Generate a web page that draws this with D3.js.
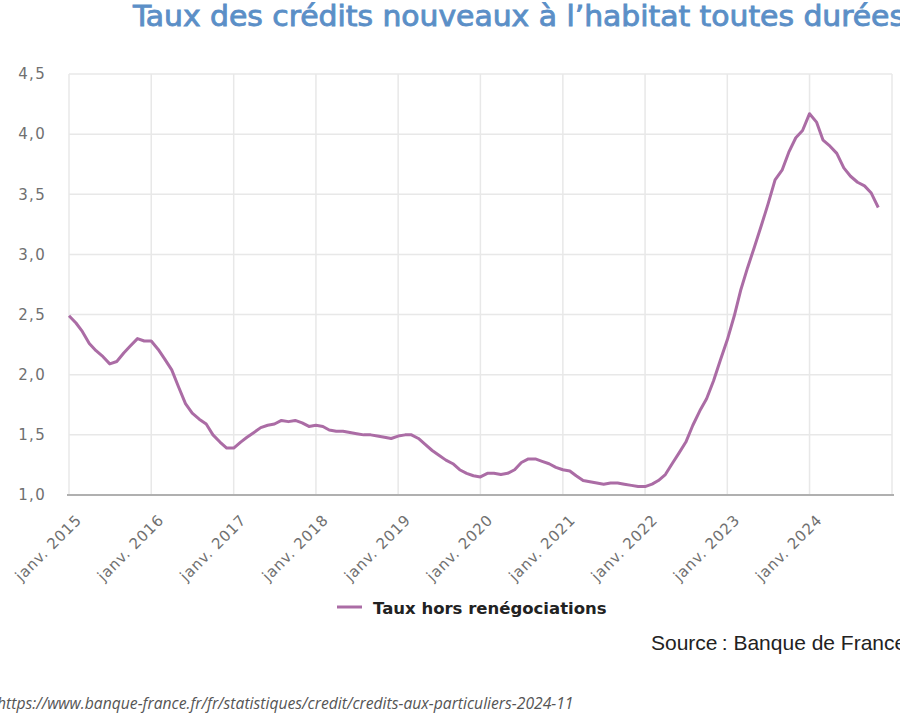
<!DOCTYPE html>
<html>
<head>
<meta charset="utf-8">
<script src="https://cdn.jsdelivr.net/npm/d3@7"></script>
<style>
  body { margin: 0; background: #fff; }
  svg { display: block; }
</style>
</head>
<body>
<script>
// taux mensuels, janv. 2015 -> nov. 2024
const startMonth = "2015-01";
const rates = [
  2.49, 2.43, 2.36, 2.26, 2.20, 2.15, 2.09, 2.11, 2.18, 2.24, 2.30, 2.28,
  2.28, 2.21, 2.13, 2.04, 1.90, 1.76, 1.68, 1.63, 1.59, 1.50, 1.44, 1.39,
  1.39, 1.44, 1.48, 1.52, 1.56, 1.58, 1.59, 1.62, 1.61, 1.62, 1.60, 1.57,
  1.58, 1.57, 1.54, 1.53, 1.53, 1.52, 1.51, 1.50, 1.50, 1.49, 1.48, 1.47,
  1.49, 1.50, 1.50, 1.47, 1.42, 1.37, 1.33, 1.29, 1.26, 1.21, 1.18, 1.16,
  1.15, 1.18, 1.18, 1.17, 1.18, 1.21, 1.27, 1.30, 1.30, 1.28, 1.26, 1.23,
  1.21, 1.20, 1.16, 1.12, 1.11, 1.10, 1.09, 1.10, 1.10, 1.09, 1.08, 1.07,
  1.07, 1.09, 1.12, 1.17, 1.26, 1.35, 1.44, 1.58, 1.70, 1.80, 1.95, 2.12,
  2.29, 2.49, 2.70, 2.89, 3.06, 3.24, 3.42, 3.62, 3.70, 3.85, 3.97, 4.03,
  4.17, 4.10, 3.95, 3.90, 3.84, 3.72, 3.65, 3.60, 3.57, 3.51, 3.39
];
const yTicks = [1, 1.5, 2, 2.5, 3, 3.5, 4, 4.5];
const xTickYears = [2015, 2016, 2017, 2018, 2019, 2020, 2021, 2022, 2023, 2024];
const seriesName = "Taux hors renégociations";
const title = "Taux des crédits nouveaux à l’habitat toutes durées";
const sourceText = "Source\u2009: Banque de France";
const urlText = "https://www.banque-france.fr/fr/statistiques/credit/credits-aux-particuliers-2024-11";

const width = 900, height = 715;
const lineColor = "#ab6ca5";

const t0 = d3.timeParse("%Y-%m")(startMonth);
const data = rates.map((v, i) => ({date: d3.timeMonth.offset(t0, i), value: v}));

const fr = d3.formatLocale({decimal: ",", thousands: " ", grouping: [3], currency: ["", " €"]});

const svg = d3.select("body").append("svg")
  .attr("width", width)
  .attr("height", height);

const x = d3.scaleTime()
  .domain([new Date(2015, 0, 1), new Date(2025, 0, 1)])
  .range([69, 892]);

const y = d3.scaleLinear()
  .domain([1, 4.5])
  .range([495, 74]);

// grille
svg.append("g")
  .selectAll("line.h")
  .data(yTicks.slice(1))
  .enter().append("line")
    .attr("x1", x.range()[0]).attr("x2", x.range()[1])
    .attr("y1", d => y(d)).attr("y2", d => y(d))
    .attr("stroke", "#e8e8e8").attr("stroke-width", 1.5);

svg.append("g")
  .selectAll("line.v")
  .data(xTickYears.concat([2025]))
  .enter().append("line")
    .attr("x1", d => x(new Date(d, 0, 1))).attr("x2", d => x(new Date(d, 0, 1)))
    .attr("y1", y(4.5)).attr("y2", y(1))
    .attr("stroke", "#e8e8e8").attr("stroke-width", 1.5);

// axe y
const yAxis = svg.append("g")
  .attr("transform", "translate(" + x.range()[0] + ",0)")
  .call(d3.axisLeft(y).tickValues(yTicks).tickFormat(fr.format(".1f")).tickSize(0).tickPadding(23));
yAxis.select(".domain").remove();
yAxis.selectAll("text")
  .attr("fill", "#707070")
  .style("font", "15px 'DejaVu Sans', sans-serif")
  .style("letter-spacing", "1.3px");

// axe x
const xAxis = svg.append("g")
  .attr("transform", "translate(0," + y(1) + ")")
  .call(d3.axisBottom(x)
    .tickValues(xTickYears.map(d => new Date(d, 0, 1)))
    .tickFormat(d => "janv. " + d.getFullYear())
    .tickSize(0));
xAxis.select(".domain")
  .attr("stroke", "#b0b0b0").attr("stroke-width", 2)
  .attr("d", "M" + (x.range()[0] - 2) + ",0H" + (x.range()[1] + 2));
xAxis.selectAll("text")
  .attr("fill", "#707070")
  .attr("text-anchor", "end")
  .attr("dy", 0)
  .attr("y", 0)
  .attr("transform", "translate(13,26) rotate(-45)")
  .style("font", "15px 'DejaVu Sans', sans-serif")
  .style("letter-spacing", "0.8px");

// courbe
const line = d3.line()
  .x(d => x(d.date))
  .y(d => y(d.value));

svg.append("path")
  .datum(data)
  .attr("fill", "none")
  .attr("stroke", lineColor)
  .attr("stroke-width", 3)
  .attr("stroke-linejoin", "round")
  .attr("d", line);

// titre
svg.append("text")
  .attr("x", 133).attr("y", 26)
  .attr("fill", "#5b8fc7")
  .attr("stroke", "#5b8fc7")
  .attr("stroke-width", 0.8)
  .attr("textLength", 772)
  .attr("lengthAdjust", "spacingAndGlyphs")
  .style("font", "28px 'DejaVu Sans Condensed', 'DejaVu Sans', sans-serif")
  .style("font-stretch", "condensed")
  .text(title);

// légende
svg.append("line")
  .attr("x1", 337).attr("x2", 362)
  .attr("y1", 607).attr("y2", 607)
  .attr("stroke", lineColor).attr("stroke-width", 3);
svg.append("text")
  .attr("x", 373).attr("y", 614)
  .attr("fill", "#222")
  .style("font", "bold 16.5px 'DejaVu Sans', sans-serif")
  .text(seriesName);

// source
svg.append("text")
  .attr("x", 651).attr("y", 650)
  .attr("fill", "#222")
  .style("font", "21px 'Liberation Sans', Arial, sans-serif")
  .text(sourceText);

// url
svg.append("text")
  .attr("x", -3).attr("y", 709)
  .attr("fill", "#555")
  .style("font", "italic 15.7px 'Open Sans', sans-serif")
  .text(urlText);
</script>
</body>
</html>
